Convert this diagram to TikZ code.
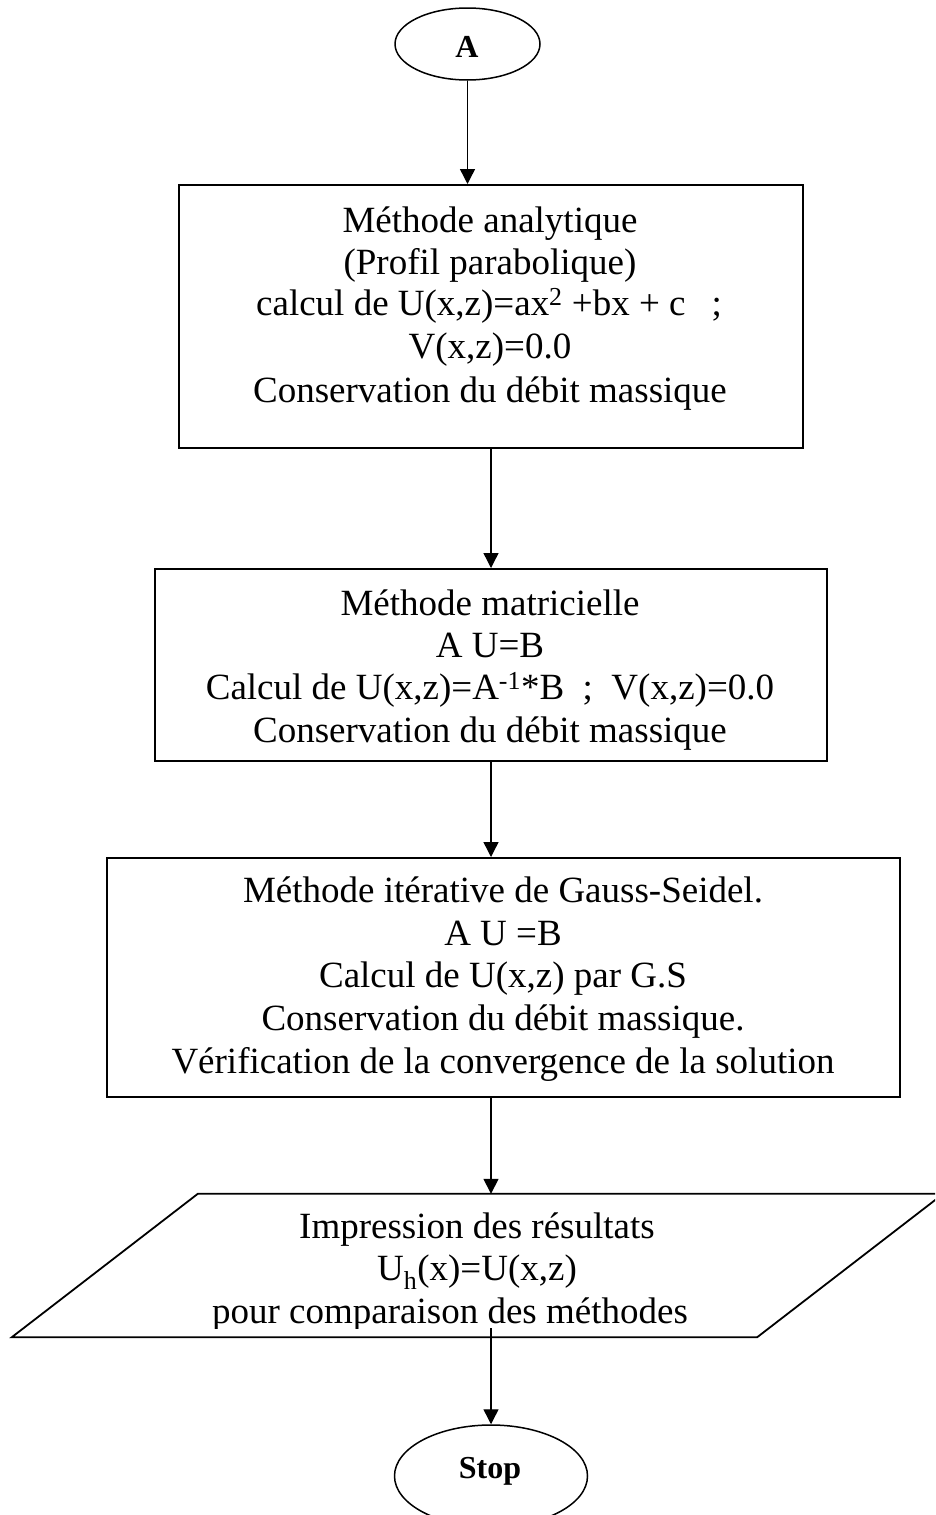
\documentclass[tikz,border=0pt]{standalone}
\usepackage{fontspec}
\setmainfont{Liberation Serif}
\usetikzlibrary{shapes.geometric,arrows.meta,calc}
\begin{document}
\begin{tikzpicture}[x=1pt,y=-1pt,
  box/.style={draw,line width=2pt,inner sep=0pt},
  term/.style={draw,ellipse,line width=1.5pt,inner sep=0pt},
  termtxt/.style={anchor=base,inner sep=0pt,font=\fontsize{32}{36}\selectfont\bfseries},
  txt/.style={anchor=base,inner sep=0pt,font=\fontsize{37}{42.5}\selectfont},
  flow/.style={line width=1.4pt,-{Triangle[length=15pt,width=15pt]}},
  pline/.style={line width=1.8pt,line join=miter},
]
\useasboundingbox (0,0) rectangle (935,1515);
\clip (0,0) rectangle (935,1515);

% terminals and process boxes
\node[term,minimum width=145pt,minimum height=72pt] (A) at (467.5,44) {};
\node[box,minimum width=624pt,minimum height=263pt] (b1) at (491,316.5) {};
\node[box,minimum width=672pt,minimum height=192pt] (b2) at (491,665) {};
\node[box,minimum width=793pt,minimum height=239pt] (b3) at (503.5,977.5) {};
\node[inner sep=0pt,minimum width=931pt,minimum height=143pt] (para) at (477.5,1265.5) {};
\node[term,minimum width=193pt,minimum height=102pt] (S) at (491,1476) {};

\node[termtxt] (tA) at (467,57) {A};
\node[termtxt] (tS) at (490,1478) {Stop};

% output parallelogram
\draw[pline] (para.south west) -- ([xshift=186pt]para.north west)
  -- (para.north east) -- ([xshift=-186pt]para.south east) -- cycle;

% box texts
\node[txt] (l11) at (490,232) {Méthode analytique};
\node[txt] (l12) at (490,274) {(Profil parabolique)};
\node[txt] (l13) at (489,315) {calcul de U(x,z)=ax\textsuperscript{2} +bx + c\hspace{26pt};};
\node[txt] (l14) at (490,358) {V(x,z)=0.0};
\node[txt] (l15) at (490,402) {Conservation du débit massique};

\node[txt] (l21) at (490,615) {Méthode matricielle};
\node[txt] (l22) at (490,657) {A U=B};
\node[txt] (l23) at (490,699) {Calcul de U(x,z)=A\textsuperscript{-1}*B\ \ ;\ \ V(x,z)=0.0};
\node[txt] (l24) at (490,742) {Conservation du débit massique};

\node[txt] (l31) at (503,902) {Méthode itérative de Gauss-Seidel.};
\node[txt] (l32) at (503,945) {A U =B};
\node[txt] (l33) at (503,987) {Calcul de U(x,z) par G.S};
\node[txt] (l34) at (503,1030) {Conservation du débit massique.};
\node[txt] (l35) at (503,1073) {Vérification de la convergence de la solution};

% the output text frame cuts the last line just above its descenders
\begin{scope}
\clip (0,1150) rectangle (935,1328);
\node[txt] (l41) at (477,1238) {Impression des résultats};
\node[txt] (l42) at (477,1280) {U\textsubscript{h}(x)=U(x,z)};
\node[txt] (l43) at (450,1323) {pour comparaison des méthodes};
\end{scope}

% connectors
\draw[flow] (A.south) -- (A.south |- b1.north);
\draw[flow] (b1.south) -- (b2.north);
\draw[flow] (b2.south) -- (b2.south |- b3.north);
\draw[flow] (b2.south |- b3.south) -- (b2.south |- para.north);
\draw[flow] ($(b2.south |- para.south)+(0,-9)$) -- (S.north);
\end{tikzpicture}
\end{document}
